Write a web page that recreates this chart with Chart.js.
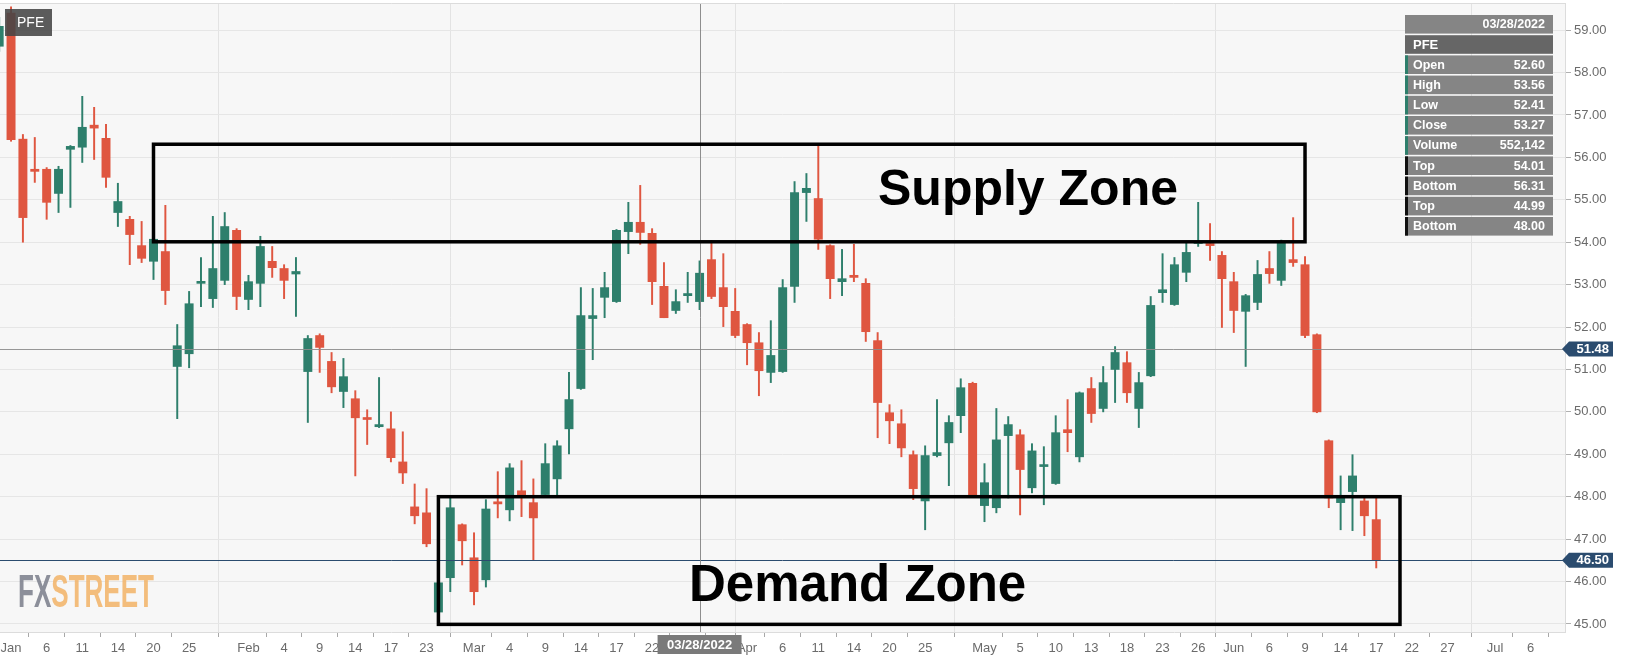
<!DOCTYPE html>
<html>
<head>
<meta charset="utf-8">
<script src="https://cdn.jsdelivr.net/npm/chart.js@4.4.1/dist/chart.umd.min.js"></script>
<style>
  html, body { margin: 0; padding: 0; background: #fff; }
  #wrap { width: 1627px; height: 667px; position: relative; }
</style>
</head>
<body>
<div id="wrap"><canvas id="pfeChart"></canvas></div>
<script>
// trading-day index: Dec 31 2021 = -1, Jan 3 2022 = 0
const firstDay = -1;

const open = [58.62, 59.40, 56.43, 55.72, 55.72, 55.15, 56.19, 56.24, 56.76, 56.45, 54.70,
  54.54, 53.92, 53.55, 53.78, 51.07, 51.37, 53.03, 52.67, 53.10, 54.28,
  52.65, 53.03, 53.55, 53.38, 53.25, 50.95, 51.80, 51.19, 50.48, 50.31,
  49.86, 49.65, 49.60, 48.82, 47.76, 47.62, 45.28, 46.09, 47.34, 46.56,
  46.04, 47.88, 47.69, 48.14, 47.86, 48.05, 48.42, 49.60, 50.55, 52.20,
  52.70, 52.60, 54.25, 54.47, 54.21, 52.96, 52.39, 52.74, 52.60, 53.59,
  52.93, 52.37, 52.06, 51.63, 50.93, 50.95, 52.96, 55.17, 55.03, 53.92,
  53.07, 53.22, 53.03, 51.68, 49.98, 49.72, 48.99, 47.90, 48.97, 49.27,
  49.91, 50.67, 47.79, 47.74, 49.44, 49.46, 48.21, 48.71, 48.31, 49.58,
  48.94, 50.55, 50.08, 51.00, 51.16, 50.08, 50.85, 52.81, 52.53, 53.29,
  53.97, 53.97, 53.69, 53.07, 52.37, 52.58, 53.38, 53.10, 53.59, 53.47,
  51.82, 49.32, 47.86, 48.12, 47.90, 47.46];
const high = [59.30, 59.55, 56.54, 56.47, 55.76, 55.79, 56.28, 57.44, 57.18, 56.78, 55.39,
  54.61, 54.49, 54.10, 54.87, 52.06, 52.84, 53.64, 54.61, 54.70, 54.32,
  53.22, 54.14, 53.90, 53.47, 53.64, 51.80, 51.84, 51.40, 51.26, 50.50,
  50.05, 50.81, 50.00, 49.53, 48.30, 48.19, 45.97, 48.00, 47.36, 47.15,
  47.93, 48.59, 48.78, 48.85, 48.42, 49.25, 49.32, 50.93, 52.93, 52.91,
  53.29, 54.30, 54.94, 55.34, 54.32, 53.52, 52.88, 53.29, 53.56, 54.04,
  53.73, 52.91, 52.08, 51.87, 52.15, 53.12, 55.43, 55.62, 56.31, 53.94,
  53.83, 53.95, 53.14, 51.87, 50.17, 50.05, 49.08, 49.20, 50.29, 49.91,
  50.78, 50.70, 48.78, 50.08, 49.89, 49.58, 49.25, 49.18, 49.91, 50.29,
  50.47, 50.81, 51.07, 51.54, 51.42, 50.93, 52.72, 53.73, 53.64, 54.00,
  54.94, 54.44, 53.78, 53.29, 52.77, 53.57, 53.78, 54.05, 54.58, 53.66,
  51.84, 49.34, 48.49, 48.99, 48.00, 48.02];
const low = [58.50, 56.38, 54.00, 55.41, 54.54, 54.70, 54.82, 55.88, 55.95, 55.29, 54.37,
  53.47, 53.52, 53.12, 52.53, 49.84, 51.04, 52.48, 52.46, 53.00, 52.41,
  52.41, 52.48, 53.17, 52.67, 52.25, 49.75, 50.93, 50.45, 50.10, 48.49,
  49.23, 49.63, 48.82, 48.31, 47.36, 46.82, 45.25, 45.76, 46.39, 45.45,
  45.87, 47.50, 47.43, 47.53, 46.51, 48.03, 48.02, 49.01, 50.53, 51.23,
  52.22, 52.58, 53.73, 53.95, 52.53, 52.22, 52.32, 52.58, 52.41, 52.67,
  52.01, 51.75, 51.11, 50.38, 50.69, 50.93, 52.58, 54.49, 53.83, 52.67,
  52.74, 53.07, 51.66, 49.39, 49.25, 48.94, 47.93, 47.22, 48.94, 48.26,
  49.51, 47.98, 47.41, 47.62, 47.97, 47.57, 48.09, 47.81, 48.29, 49.06,
  48.82, 49.75, 50.00, 50.22, 50.22, 49.63, 50.83, 52.58, 52.51, 53.07,
  53.90, 53.57, 51.99, 51.87, 51.07, 52.41, 53.03, 52.98, 53.43, 51.75,
  49.98, 47.74, 47.22, 47.20, 47.08, 46.32];
const close = [59.09, 56.42, 54.58, 55.67, 54.94, 55.72, 56.26, 56.71, 56.69, 55.53, 54.96,
  54.18, 53.62, 54.07, 52.86, 51.56, 52.55, 53.07, 53.38, 54.37, 52.72,
  53.07, 53.90, 53.40, 53.10, 53.31, 51.73, 51.52, 50.59, 50.83, 49.86,
  49.82, 49.70, 48.92, 48.56, 47.55, 46.89, 45.97, 47.74, 46.96, 45.76,
  47.71, 47.83, 48.68, 48.02, 47.50, 48.78, 49.20, 50.29, 52.27, 52.27,
  52.93, 54.28, 54.47, 54.23, 53.07, 52.22, 52.60, 52.79, 53.27, 52.72,
  52.48, 51.80, 51.63, 50.97, 51.33, 52.93, 55.17, 55.27, 54.07, 53.14,
  53.14, 53.17, 51.89, 50.22, 49.79, 49.15, 48.19, 48.97, 49.04, 49.75,
  50.57, 48.00, 48.33, 49.34, 49.70, 48.64, 49.08, 48.75, 49.51, 49.51,
  50.45, 49.96, 50.69, 51.40, 50.45, 50.69, 52.51, 52.88, 53.47, 53.76,
  54.02, 53.92, 53.14, 52.39, 52.74, 53.24, 53.26, 54.00, 53.52, 51.80,
  50.00, 47.97, 48.00, 48.49, 47.55, 46.50];

// x-axis tick positions (trading-day index) and their labels
const tickDays = [0, 3, 6, 9, 12, 15, 20, 23, 26, 29, 32, 35, 39, 42, 45, 48, 51, 54, 57, 60,
  62, 65, 68, 71, 74, 77, 82, 85, 88, 91, 94, 97, 100, 103, 106, 109, 112, 115, 118, 121, 125, 128];
const tickLabels = ['Jan', '6', '11', '14', '20', '25', 'Feb', '4', '9', '14', '17', '23',
  'Mar', '4', '9', '14', '17', '22', '25', '30', 'Apr', '6', '11', '14', '20', '25',
  'May', '5', '10', '13', '18', '23', '26', 'Jun', '6', '9', '14', '17', '22', '27', 'Jul', '6'];
const monthDays = [0, 20, 39, 62, 82, 103, 125];

// drawn zones [start day, end day, top, bottom]
const supplyZone = [12, 109, 56.31, 54.01];
const demandZone = [36, 117, 48.00, 44.99];
const levelLines = [51.48, 46.50];
const cursorDay = 58;
const cursorDate = '03/28/2022';
const cursorVolume = '552,142';

const upColor = '#2e7f6c';
const downColor = '#df5640';

const candleX = open.map((_, i) => i + firstDay);
const candleColors = close.map((c, i) => (c >= open[i] ? upColor : downColor));

Chart.defaults.font.family = '"Liberation Sans", Arial, sans-serif';

const noPad = (scale) => {
  scale.paddingTop = 0;
  scale.paddingBottom = 0;
  scale.paddingLeft = 0;
  scale.paddingRight = 0;
};

const decor = {
  id: 'decor',
  beforeDraw(chart) {
    const { ctx, chartArea: a } = chart;
    ctx.save();
    ctx.fillStyle = '#f7f7f7';
    ctx.fillRect(a.left, a.top, a.right - a.left, a.bottom - a.top);
    ctx.restore();
  },
  beforeDatasetsDraw(chart) {
    const { ctx } = chart;
    // FXSTREET watermark
    ctx.save();
    ctx.font = 'bold 47px "Liberation Sans", Arial, sans-serif';
    ctx.textBaseline = 'alphabetic';
    const w1 = ctx.measureText('FX').width;
    const w2 = ctx.measureText('STREET').width;
    const k = 136 / (w1 + w2);
    ctx.translate(18, 607);
    ctx.scale(k, 1);
    ctx.fillStyle = 'rgba(128,131,143,0.9)';
    ctx.fillText('FX', 0, 0);
    ctx.fillStyle = 'rgba(242,182,110,0.9)';
    ctx.fillText('STREET', w1, 0);
    ctx.restore();
  },
  afterDatasetsDraw(chart) {
    const { ctx, chartArea: a, scales: { x, y } } = chart;
    ctx.save();
    // level lines
    ctx.lineWidth = 1;
    ctx.strokeStyle = 'rgba(140,140,140,0.9)';
    let py = Math.round(y.getPixelForValue(levelLines[0])) + 0.5;
    ctx.beginPath(); ctx.moveTo(a.left, py); ctx.lineTo(a.right, py); ctx.stroke();
    ctx.strokeStyle = '#2b4c6f';
    py = Math.round(y.getPixelForValue(levelLines[1])) + 0.5;
    ctx.beginPath(); ctx.moveTo(a.left, py); ctx.lineTo(a.right, py); ctx.stroke();
    // crosshair
    ctx.strokeStyle = 'rgba(130,130,130,0.9)';
    const cx = Math.round(x.getPixelForValue(cursorDay)) + 0.5;
    ctx.beginPath(); ctx.moveTo(cx, a.top); ctx.lineTo(cx, a.bottom); ctx.stroke();
    // zones
    ctx.strokeStyle = '#000';
    ctx.lineWidth = 3.5;
    [supplyZone, demandZone].forEach(z => {
      const x0 = x.getPixelForValue(z[0]);
      const x1 = x.getPixelForValue(z[1]);
      const y0 = y.getPixelForValue(z[2]);
      const y1 = y.getPixelForValue(z[3]);
      ctx.strokeRect(x0, y0, x1 - x0, y1 - y0);
    });
    ctx.fillStyle = '#000';
    ctx.textBaseline = 'alphabetic';
    ctx.textAlign = 'left';
    ctx.font = 'bold 50px "Liberation Sans", Arial, sans-serif';
    ctx.fillText('Supply Zone', 878, 205);
    ctx.font = 'bold 51px "Liberation Sans", Arial, sans-serif';
    ctx.fillText('Demand Zone', 689, 601);
    ctx.restore();
  },
  afterDraw(chart) {
    const { ctx, chartArea: a, scales: { x, y } } = chart;
    ctx.save();
    // top border
    ctx.strokeStyle = '#dcdcdc';
    ctx.lineWidth = 1;
    ctx.beginPath(); ctx.moveTo(a.left, a.top + 0.5); ctx.lineTo(a.right, a.top + 0.5); ctx.stroke();

    // price tags on the right axis
    const tag = (val) => {
      const cy = y.getPixelForValue(val);
      ctx.fillStyle = '#2b4c6f';
      ctx.beginPath();
      ctx.moveTo(a.right - 3, cy);
      ctx.lineTo(a.right + 4, cy - 7.5);
      ctx.lineTo(a.right + 48, cy - 7.5);
      ctx.lineTo(a.right + 48, cy + 7.5);
      ctx.lineTo(a.right + 4, cy + 7.5);
      ctx.closePath();
      ctx.fill();
      ctx.fillStyle = '#fff';
      ctx.font = 'bold 13px "Liberation Sans", Arial, sans-serif';
      ctx.textAlign = 'right';
      ctx.textBaseline = 'middle';
      ctx.fillText(val.toFixed(2), a.right + 44, cy + 0.5);
    };
    levelLines.forEach(tag);

    // date box under the crosshair
    const cx = x.getPixelForValue(cursorDay);
    ctx.fillStyle = '#7a7a7a';
    ctx.fillRect(cx - 42, a.bottom + 3, 84, 19);
    ctx.fillStyle = '#fff';
    ctx.font = 'bold 13px "Liberation Sans", Arial, sans-serif';
    ctx.textAlign = 'center';
    ctx.textBaseline = 'middle';
    ctx.fillText(cursorDate, cx, a.bottom + 13);

    // symbol label top-left
    ctx.fillStyle = 'rgba(70,70,70,0.88)';
    ctx.fillRect(5, 9, 47, 27);
    ctx.fillStyle = '#fff';
    ctx.font = '14px "Liberation Sans", Arial, sans-serif';
    ctx.textAlign = 'left';
    ctx.fillText('PFE', 17, 23);

    // info box
    const i = cursorDay - firstDay;
    const rows = [
      ['Open', open[i].toFixed(2), upColor],
      ['High', high[i].toFixed(2), upColor],
      ['Low', low[i].toFixed(2), upColor],
      ['Close', close[i].toFixed(2), upColor],
      ['Volume', cursorVolume, upColor],
      ['Top', supplyZone[3].toFixed(2), '#111'],
      ['Bottom', supplyZone[2].toFixed(2), '#111'],
      ['Top', demandZone[3].toFixed(2), '#111'],
      ['Bottom', demandZone[2].toFixed(2), '#111']
    ];
    const bx = 1405, bw = 148, rh = 18.6, pitch = 20.2;
    let ry = 15;
    ctx.fillStyle = '#858585';
    ctx.fillRect(bx, ry, bw, rh);
    ctx.fillStyle = '#fff';
    ctx.font = 'bold 12.5px "Liberation Sans", Arial, sans-serif';
    ctx.textAlign = 'right';
    ctx.fillText(cursorDate, bx + 140, ry + rh / 2 + 0.5);
    ry += pitch;
    ctx.fillStyle = '#666';
    ctx.fillRect(bx, ry, bw, rh);
    ctx.fillStyle = '#fff';
    ctx.textAlign = 'left';
    ctx.font = 'bold 13px "Liberation Sans", Arial, sans-serif';
    ctx.fillText('PFE', bx + 8, ry + rh / 2 + 0.5);
    rows.forEach(r => {
      ry += pitch;
      ctx.fillStyle = '#858585';
      ctx.fillRect(bx, ry, bw, rh);
      ctx.fillStyle = r[2];
      ctx.fillRect(bx, ry, 3, rh);
      ctx.fillStyle = '#fff';
      ctx.font = 'bold 12.5px "Liberation Sans", Arial, sans-serif';
      ctx.textAlign = 'left';
      ctx.fillText(r[0], bx + 8, ry + rh / 2 + 0.5);
      ctx.textAlign = 'right';
      ctx.fillText(r[1], bx + 140, ry + rh / 2 + 0.5);
    });
    ctx.restore();
  }
};

new Chart(document.getElementById('pfeChart'), {
  type: 'bar',
  data: {
    datasets: [
      {
        label: 'body',
        data: candleX.map((d, i) => ({ x: d, y: [open[i], close[i]] })),
        backgroundColor: candleColors,
        borderWidth: 0,
        barThickness: 8.3,
        minBarLength: 2,
        grouped: false,
        order: 0
      },
      {
        label: 'wick',
        data: candleX.map((d, i) => ({ x: d, y: [low[i], high[i]] })),
        backgroundColor: candleColors,
        borderWidth: 0,
        barThickness: 1.3,
        grouped: false,
        order: 1
      }
    ]
  },
  options: {
    responsive: true,
    maintainAspectRatio: false,
    animation: false,
    layout: { padding: { top: 3, left: 0, right: 0, bottom: 0 } },
    plugins: {
      legend: { display: false },
      tooltip: { enabled: false },
      title: { display: false }
    },
    scales: {
      x: {
        type: 'linear',
        min: -0.93,
        max: 130.9,
        offset: false,
        afterBuildTicks: (scale) => { scale.ticks = tickDays.map(v => ({ value: v })); },
        afterFit: (scale) => { scale.height = 35; noPad(scale); },
        ticks: {
          autoSkip: false,
          maxRotation: 0,
          padding: 4,
          color: '#6b6b6b',
          font: { size: 13 },
          callback: (v) => {
            const k = tickDays.indexOf(v);
            return k >= 0 ? tickLabels[k] : '';
          }
        },
        grid: {
          color: (c) => (c.tick && monthDays.includes(c.tick.value) ? '#e3e3e3' : 'rgba(0,0,0,0)'),
          tickColor: '#a8a8a8',
          tickLength: 5
        },
        border: { color: '#dcdcdc' }
      },
      y: {
        position: 'right',
        min: 44.81,
        max: 59.64,
        afterFit: (scale) => { scale.width = 62; noPad(scale); },
        ticks: {
          stepSize: 1,
          includeBounds: false,
          padding: 3,
          color: '#6b6b6b',
          font: { size: 13 },
          callback: (v) => v.toFixed(2)
        },
        grid: { color: '#e6e6e6', tickColor: '#b0b0b0', tickLength: 6 },
        border: { color: '#dcdcdc' }
      }
    }
  },
  plugins: [decor]
});
</script>
</body>
</html>
